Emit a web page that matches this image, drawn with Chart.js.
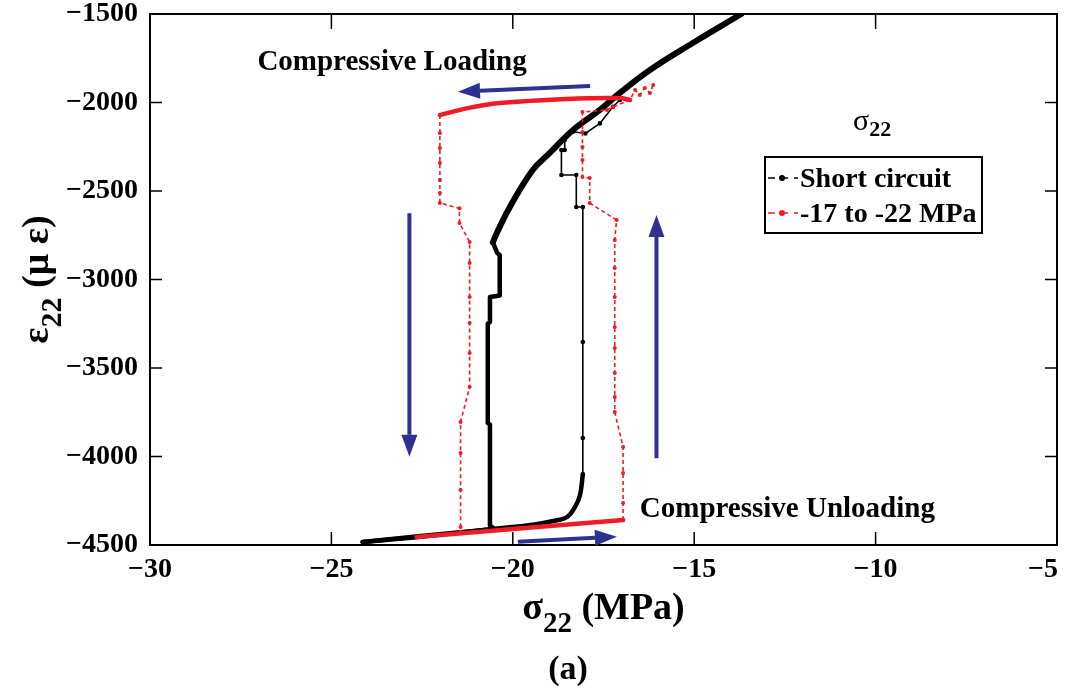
<!DOCTYPE html>
<html lang="en">
<head>
    <meta charset="UTF-8">
    <title>Stress-strain loop</title>
    <script src="https://cdn.jsdelivr.net/npm/chart.js"></script>
    <style>
        body { margin: 0; background: #fff; }
        .wrap { width: 1068px; height: 691px; position: relative; }
    </style>
</head>
<body>
<div class="wrap"><canvas id="loopChart"></canvas></div>
<script>
    // sigma22 (MPa) vs epsilon22 (micro strain), one pair of arrays per branch

    // short circuit: loading down the upper curve
    const scCurveX = [-13.7, -15.04, -16.22, -17.05, -17.6, -18.34, -18.98, -19.45, -20.08, -20.44, -20.55];
    const scCurveY = [-1500, -1664, -1816, -1946, -2042, -2155, -2285, -2381, -2590, -2737, -2790];
    // short circuit: loading down the left side
    const scLoadX = [-20.55, -20.43, -20.36, -20.36, -20.63, -20.63, -20.69, -20.69, -20.63, -20.63, -20.5, -22.6, -24.14];
    const scLoadY = [-2790, -2850, -2862, -3090, -3099, -3240, -3250, -3811, -3820, -4390, -4410, -4450, -4483];
    // short circuit: unloading along the bottom
    const scBackX = [-24.14, -22.6, -20.36, -19.45, -18.78, -18.5, -18.3, -18.15, -18.07];
    const scBackY = [-4483, -4455, -4405, -4385, -4360, -4342, -4290, -4220, -4100];
    // short circuit: unloading up the right side
    const scRiseX = [-18.07, -18.07, -18.07, -18.07, -18.25, -18.25, -18.66, -18.66, -18.57, -18.57, -18.34, -18.0, -17.6, -17.24, -17.05];
    const scRiseY = [-4100, -3896, -3353, -2590, -2590, -2410, -2410, -2268, -2268, -2212, -2165, -2175, -2118, -2024, -1986];

    // -17 to -22 MPa bias
    const bTopX = [-16.77, -17.05, -18.52, -20.36, -21.28, -22.01];
    const bTopY = [-1986, -1975, -1980, -2003, -2033, -2071];
    const bLeftX = [-22.01, -22.01, -22.01, -22.01, -22.01, -22.01, -22.01, -21.47, -21.47, -21.19, -21.19, -21.19, -21.19, -21.19, -21.19, -21.44, -21.44, -21.44, -21.44, -21.44];
    const bLeftY = [-2071, -2172, -2257, -2342, -2438, -2511, -2568, -2598, -2681, -2788, -2907, -3099, -3246, -3415, -3607, -3805, -3980, -4189, -4398, -4425];
    const bBottomX = [-22.65, -20, -16.96];
    const bBottomY = [-4455, -4409, -4359];
    const bRightX = [-16.96, -16.96, -16.96, -16.96, -17.19, -17.19, -17.19, -17.19, -17.19, -17.19, -17.19, -17.19, -17.14, -17.88, -17.88, -18.08, -18.08, -18.08, -18.08, -18.08, -17.41, -17.24, -16.77, -16.63, -16.5, -16.36, -16.22, -16.13];
    const bRightY = [-4359, -4263, -4093, -3946, -3749, -3664, -3528, -3387, -3268, -3099, -2935, -2777, -2664, -2568, -2427, -2421, -2325, -2251, -2167, -2054, -2042, -2025, -1986, -1929, -1958, -1918, -1946, -1901];

    // direction arrows (tail -> tip)
    const arrowX0 = [-17.87, -22.85, -16.04, -19.86];
    const arrowY0 = [-1907, -2626, -4010, -4481];
    const arrowX1 = [-21.51, -22.85, -16.04, -17.13];
    const arrowY1 = [-1939, -4001, -2636, -4453];

    const seriesNames = ['Short circuit', '-17 to -22 MPa'];
    const xTicks = [-30, -25, -20, -15, -10, -5];
    const yTicks = [-4500, -4000, -3500, -3000, -2500, -2000, -1500];

    const RED = '#ee1c25';
    const BLUE = '#2e3192';
    const SERIF = '"Liberation Serif", "Times New Roman", serif';

    const pts = (xs, ys) => xs.map((v, i) => ({ x: v, y: ys[i] }));
    const minus = v => String(v).replace('-', '\u2212');

    const solid = (label, data, color, width, tension) => ({
        label, data, showLine: true, borderColor: color, backgroundColor: color,
        borderWidth: width, pointRadius: 0, tension: tension || 0,
        borderCapStyle: 'round', borderJoinStyle: 'round'
    });
    const dashed = (label, data, color) => ({
        label, data, showLine: true, borderColor: color, backgroundColor: color,
        borderWidth: 1.6, borderDash: [4, 3], pointRadius: 2, pointBorderWidth: 0, tension: 0
    });

    // draw a run of text pieces (main text + subscripts) starting at x
    function runText(ctx, parts, x, y, align) {
        let total = 0;
        parts.forEach(p => { ctx.font = p[1]; total += ctx.measureText(p[0]).width; });
        let cx = align === 'center' ? x - total / 2 : x;
        ctx.textAlign = 'left';
        ctx.textBaseline = 'alphabetic';
        parts.forEach(p => {
            ctx.font = p[1];
            ctx.fillText(p[0], cx, y + (p[2] || 0));
            cx += ctx.measureText(p[0]).width;
        });
    }

    function arrow(ctx, x0, y0, x1, y1) {
        const ang = Math.atan2(y1 - y0, x1 - x0);
        const len = 22, half = 8;
        const bx = x1 - len * Math.cos(ang), by = y1 - len * Math.sin(ang);
        ctx.strokeStyle = BLUE;
        ctx.fillStyle = BLUE;
        ctx.lineWidth = 4;
        ctx.beginPath();
        ctx.moveTo(x0, y0);
        ctx.lineTo(bx, by);
        ctx.stroke();
        ctx.beginPath();
        ctx.moveTo(x1, y1);
        ctx.lineTo(bx + half * Math.sin(ang), by - half * Math.cos(ang));
        ctx.lineTo(bx - half * Math.sin(ang), by + half * Math.cos(ang));
        ctx.closePath();
        ctx.fill();
    }

    const figureExtras = {
        id: 'figureExtras',
        afterDatasetsDraw(chart) {
            const { ctx, chartArea: a, scales: { x, y } } = chart;
            ctx.save();
            ctx.fillStyle = '#000';
            ctx.strokeStyle = '#000';

            // frame
            ctx.lineWidth = 2;
            ctx.strokeRect(a.left, a.top, a.right - a.left, a.bottom - a.top);

            // inward ticks on all four sides
            ctx.lineWidth = 1.5;
            ctx.beginPath();
            xTicks.slice(1, -1).forEach(v => {
                const px = x.getPixelForValue(v);
                ctx.moveTo(px, a.bottom); ctx.lineTo(px, a.bottom - 13);
                ctx.moveTo(px, a.top); ctx.lineTo(px, a.top + 15);
            });
            yTicks.slice(1, -1).forEach(v => {
                const py = y.getPixelForValue(v);
                ctx.moveTo(a.left, py); ctx.lineTo(a.left + 12, py);
                ctx.moveTo(a.right, py); ctx.lineTo(a.right - 12, py);
            });
            ctx.stroke();

            // loading / unloading arrows
            arrowX0.forEach((v, i) => {
                arrow(ctx, x.getPixelForValue(v), y.getPixelForValue(arrowY0[i]),
                    x.getPixelForValue(arrowX1[i]), y.getPixelForValue(arrowY1[i]));
            });

            // annotations
            ctx.fillStyle = '#000';
            runText(ctx, [['Compressive Loading', 'bold 29px ' + SERIF]],
                x.getPixelForValue(-27.04), y.getPixelForValue(-1816), 'left');
            runText(ctx, [['Compressive Unloading', 'bold 29px ' + SERIF]],
                x.getPixelForValue(-16.5), y.getPixelForValue(-4342), 'left');
            runText(ctx, [['\u03c3', '30px ' + SERIF], ['22', 'bold 22px ' + SERIF, 6]],
                x.getPixelForValue(-10.62), y.getPixelForValue(-2155), 'left');

            // legend box
            const lx = a.right - 292, ly = a.top + 143, lw = 217, lh = 76;
            ctx.fillStyle = '#fff';
            ctx.fillRect(lx, ly, lw, lh);
            ctx.lineWidth = 2;
            ctx.strokeStyle = '#000';
            ctx.strokeRect(lx, ly, lw, lh);
            [['#000', 21], [RED, 56]].forEach((s, i) => {
                const my = ly + s[1];
                ctx.strokeStyle = s[0];
                ctx.fillStyle = s[0];
                ctx.lineWidth = 1.5;
                ctx.setLineDash([7, 6]);
                ctx.beginPath();
                ctx.moveTo(lx + 3, my); ctx.lineTo(lx + 33, my);
                ctx.stroke();
                ctx.setLineDash([]);
                ctx.beginPath();
                ctx.arc(lx + 17, my, 3, 0, Math.PI * 2);
                ctx.fill();
                ctx.fillStyle = '#000';
                runText(ctx, [[seriesNames[i], 'bold 28px ' + SERIF]], lx + 35, my + 9, 'left');
            });

            // axis titles and panel tag
            ctx.fillStyle = '#000';
            runText(ctx, [['\u03c3', 'bold 38px ' + SERIF], ['22', 'bold 29px ' + SERIF, 13], [' (MPa)', 'bold 38px ' + SERIF]],
                (a.left + a.right) / 2, 619, 'center');
            runText(ctx, [['(a)', 'bold 34px ' + SERIF]], 568, 679, 'center');
            ctx.translate(48, (a.top + a.bottom) / 2);
            ctx.rotate(-Math.PI / 2);
            runText(ctx, [['\u03b5', 'bold 38px ' + SERIF], ['22', 'bold 30px ' + SERIF, 13], [' (\u03bc \u03b5)', 'bold 38px ' + SERIF]],
                0, 0, 'center');
            ctx.restore();
        }
    };

    const tickFont = { family: SERIF, size: 28, weight: 'bold' };

    new Chart(document.getElementById('loopChart'), {
        type: 'scatter',
        data: {
            datasets: [
                solid(seriesNames[1], pts(bTopX, bTopY), RED, 4.5, 0.3),
                dashed(seriesNames[1], pts(bLeftX, bLeftY), RED),
                solid(seriesNames[1], pts(bBottomX, bBottomY), RED, 4.5),
                dashed(seriesNames[1], pts(bRightX, bRightY), RED),
                solid(seriesNames[0], pts(scCurveX, scCurveY), '#000', 6, 0.4),
                solid(seriesNames[0], pts(scLoadX, scLoadY), '#000', 4.5),
                solid(seriesNames[0], pts(scBackX, scBackY), '#000', 4.5, 0.4),
                Object.assign(solid(seriesNames[0], pts(scRiseX, scRiseY), '#000', 1.6), { pointRadius: 1.5 })
            ]
        },
        options: {
            responsive: true,
            maintainAspectRatio: false,
            animation: false,
            layout: { padding: { top: 14, right: 11, left: 0, bottom: 0 } },
            plugins: { legend: { display: false }, tooltip: { enabled: false } },
            scales: {
                x: {
                    type: 'linear', min: -30, max: -5,
                    afterBuildTicks: s => { s.ticks = xTicks.map(v => ({ value: v })); },
                    // the last label is kept inside the page by padding it on the right
                    ticks: {
                        padding: 8, font: tickFont, color: '#000', maxRotation: 0,
                        callback: v => v === -5 ? minus(v) + '\u2002\u2002' : minus(v)
                    },
                    grid: { display: false, drawTicks: false },
                    border: { display: false },
                    afterFit: s => { s.height = 146; s.paddingLeft = 0; s.paddingRight = 0; }
                },
                y: {
                    type: 'linear', min: -4500, max: -1500,
                    afterBuildTicks: s => { s.ticks = yTicks.map(v => ({ value: v })); },
                    ticks: { padding: 12, font: tickFont, color: '#000', callback: minus },
                    grid: { display: false, drawTicks: false },
                    border: { display: false },
                    afterFit: s => { s.width = 150; s.paddingTop = 0; s.paddingBottom = 0; }
                }
            }
        },
        plugins: [figureExtras]
    });
</script>
</body>
</html>
